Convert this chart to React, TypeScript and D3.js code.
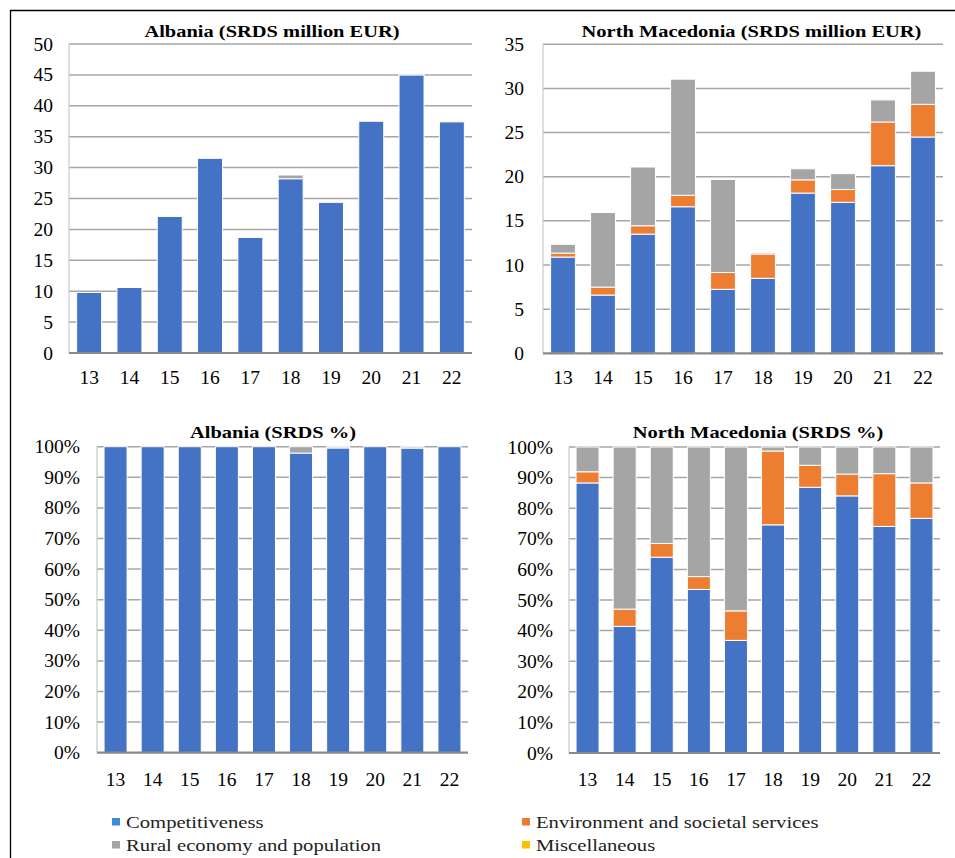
import React from 'react';
import * as d3 from 'd3';

const years = ['13', '14', '15', '16', '17', '18', '19', '20', '21', '22'];
const seriesKeys = ['comp', 'env', 'rural', 'misc'];
const seriesNames = ['Competitiveness', 'Environment and societal services', 'Rural economy and population', 'Miscellaneous'];
const seriesColors = ['#4472C4', '#ED7D31', '#A5A5A5', '#FFC000'];
const legendColors = ['#3f8bd8', '#ef7b30', '#a5a5a5', '#ffc000'];

// Albania, million EUR
const albComp = [9.8, 10.6, 22.1, 31.5, 18.7, 28.2, 24.4, 37.5, 45.0, 37.4];
const albEnv = [0, 0, 0, 0, 0, 0, 0, 0, 0, 0];
const albRural = [0, 0, 0, 0, 0, 0.6, 0.1, 0, 0.2, 0];
const albMisc = [0, 0, 0, 0, 0, 0, 0, 0, 0, 0];

// North Macedonia, million EUR
const nmComp = [10.9, 6.6, 13.5, 16.6, 7.25, 8.5, 18.15, 17.1, 21.25, 24.5];
const nmEnv = [0.45, 0.9, 0.95, 1.3, 1.9, 2.75, 1.5, 1.45, 4.95, 3.7];
const nmRural = [1.0, 8.45, 6.65, 13.15, 10.55, 0.15, 1.25, 1.8, 2.5, 3.75];
const nmMisc = [0, 0, 0, 0, 0, 0, 0, 0, 0, 0];

const eurTicks = {alb: [0, 5, 10, 15, 20, 25, 30, 35, 40, 45, 50], nm: [0, 5, 10, 15, 20, 25, 30, 35]};
const pctTicks = [0, 0.1, 0.2, 0.3, 0.4, 0.5, 0.6, 0.7, 0.8, 0.9, 1];

const font = 'Liberation Serif';
// the source text is drawn a bit wider than Times
const stretch = 1.17;

const makeRows = (a: number[], b: number[], c: number[], d: number[]) =>
  years.map((y, i) => ({year: y, comp: a[i], env: b[i], rural: c[i], misc: d[i]}));

const albRows = makeRows(albComp, albEnv, albRural, albMisc);
const nmRows = makeRows(nmComp, nmEnv, nmRural, nmMisc);

type Box = {left: number; right: number; top: number; bottom: number};

const Panel = ({rows, box, title, ticks, percent, max, titleX, titleY, labelRight, xLabelY}: any) => {
  const b: Box = box;
  const x = d3.scaleBand().domain(years).range([b.left, b.right]).paddingInner(0.38).paddingOuter(0.19);
  const y = d3.scaleLinear().domain([0, max]).range([b.bottom, b.top]);
  const stack = d3.stack<any>().keys(seriesKeys);
  if (percent) stack.offset(d3.stackOffsetExpand);
  const layers = stack(rows);
  const fmt = percent ? d3.format('.0%') : d3.format('d');
  return (
    <g style={{fontFamily: font}}>
      <text transform={`translate(${titleX},${titleY}) scale(${stretch},1)`} textAnchor="middle" fontWeight="bold" fontSize={17.5} fill="#000">{title}</text>
      {ticks.filter((t: number) => t > 0).map((t: number) => (
        <line key={'g' + t} x1={b.left} x2={b.right} y1={y(t)} y2={y(t)} stroke="#a6a6a6" strokeWidth={1.5} />
      ))}
      <line x1={b.left} x2={b.left} y1={b.top} y2={b.bottom} stroke="#c9c9c9" strokeWidth={1.2} />
      {ticks.map((t: number) => (
        <text key={'t' + t} x={labelRight} y={y(t) + 6.5} textAnchor="end" fontSize={19.5} fill="#000">{fmt(t)}</text>
      ))}
      {layers.map((layer, li) => (
        <g key={layer.key} fill={seriesColors[li]}>
          {layer.map((d, i) => {
            const h = y(d[0]) - y(d[1]);
            if (h <= 0.05) return null;
            return (
              <rect key={i} x={x(years[i])} y={y(d[1])} width={x.bandwidth()} height={h} stroke="#ffffff" strokeWidth={1} />
            );
          })}
        </g>
      ))}
      <line x1={b.left} x2={b.right} y1={b.bottom} y2={b.bottom} stroke="#898989" strokeWidth={2.2} />
      {years.map((yr) => (
        <text key={'x' + yr} x={(x(yr) as number) + x.bandwidth() / 2} y={xLabelY} textAnchor="middle" fontSize={19.5} fill="#000">{yr}</text>
      ))}
    </g>
  );
};

export default function App() {
  const legendPos = [
    {x: 112, y: 828},
    {x: 522, y: 828},
    {x: 112, y: 851},
    {x: 522, y: 851},
  ];
  return (
    <svg width={955} height={858} style={{display: 'block', position: 'absolute', left: 0, top: 0, background: '#fff'}}>
      <line x1={10} x2={955} y1={10.5} y2={10.5} stroke="#000" strokeWidth={1.3} />
      <line x1={10.5} x2={10.5} y1={10} y2={858} stroke="#000" strokeWidth={1.3} />
      <Panel rows={albRows} box={{left: 69, right: 472, top: 44, bottom: 353}} title="Albania (SRDS million EUR)"
        ticks={eurTicks.alb} max={50} percent={false} titleX={272} titleY={37} labelRight={53} xLabelY={384} />
      <Panel rows={nmRows} box={{left: 543, right: 943, top: 44.3, bottom: 353.3}} title="North Macedonia (SRDS million EUR)"
        ticks={eurTicks.nm} max={35} percent={false} titleX={751.5} titleY={37} labelRight={524} xLabelY={384} />
      <Panel rows={albRows} box={{left: 97, right: 468, top: 446.7, bottom: 752.7}} title="Albania (SRDS %)"
        ticks={pctTicks} max={1} percent={true} titleX={273} titleY={437.5} labelRight={80} xLabelY={786} />
      <Panel rows={nmRows} box={{left: 569, right: 940, top: 447, bottom: 753}} title="North Macedonia (SRDS %)"
        ticks={pctTicks} max={1} percent={true} titleX={758} titleY={437.5} labelRight={553} xLabelY={786} />
      <g style={{fontFamily: font}}>
        {seriesNames.map((name, i) => {
          const p = legendPos[i];
          return (
            <g key={name}>
              <rect x={p.x} y={p.y - 10} width={8} height={7.5} fill={legendColors[i]} />
              <text transform={`translate(${p.x + 14},${p.y}) scale(1.18,1)`} fontSize={17.5} fill="#222">{name}</text>
            </g>
          );
        })}
      </g>
    </svg>
  );
}
